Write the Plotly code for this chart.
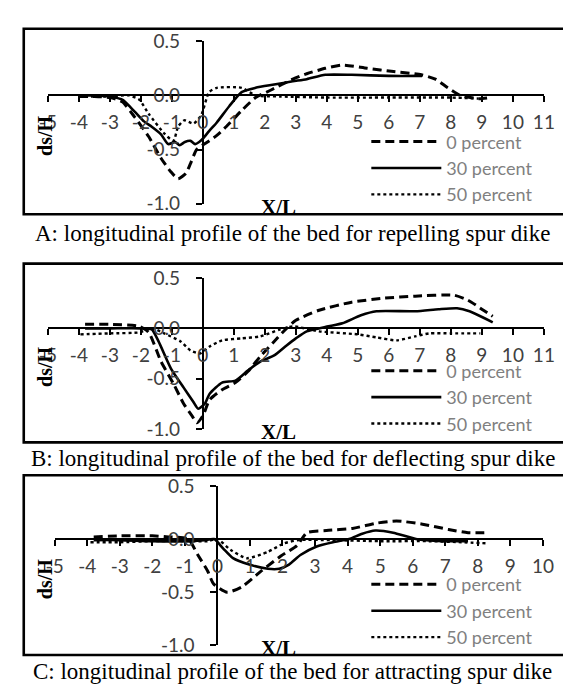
import plotly.graph_objects as go

W, H = 571, 688

# A: repelling spur dike
a0_x = [-4.0, -3.5, -3.0, -2.6, -2.2, -1.75, -1.35, -1.05, -0.8, -0.55, -0.4, -0.2, 0.1, 0.45, 0.75, 1.25, 1.7, 2.2, 2.9, 3.35, 3.95, 4.5, 5.3, 6.15, 7.05, 7.5, 7.9, 8.3, 8.9, 9.25]
a0_y = [-0.01, -0.01, -0.02, -0.06, -0.2, -0.38, -0.58, -0.7, -0.77, -0.72, -0.63, -0.5, -0.44, -0.37, -0.29, -0.14, -0.02, 0.05, 0.15, 0.2, 0.25, 0.28, 0.25, 0.22, 0.19, 0.15, 0.07, 0.0, -0.03, -0.02]
a30_x = [-4.0, -3.5, -3.0, -2.6, -2.2, -1.9, -1.65, -1.35, -1.12, -0.9, -0.75, -0.58, -0.4, -0.25, -0.12, 0.0, 0.2, 0.45, 0.85, 1.25, 1.7, 2.3, 2.9, 3.35, 3.95, 4.8, 6.0, 7.07]
a30_y = [0.0, 0.0, -0.01, -0.04, -0.15, -0.24, -0.29, -0.36, -0.45, -0.43, -0.46, -0.43, -0.42, -0.45, -0.43, -0.4, -0.33, -0.25, -0.1, 0.03, 0.07, 0.1, 0.13, 0.15, 0.19, 0.19, 0.18, 0.18]
a50_x = [-4.0, -3.0, -2.4, -2.05, -1.75, -1.25, -0.95, -0.8, -0.6, -0.3, -0.05, 0.2, 0.45, 1.25, 1.7, 2.5, 4.0, 6.0, 8.0, 8.9]
a50_y = [-0.01, -0.01, 0.0, -0.04, -0.17, -0.35, -0.42, -0.29, -0.23, -0.26, -0.18, 0.03, 0.07, 0.07, 0.0, -0.01, -0.02, -0.02, -0.02, -0.03]

# B: deflecting spur dike
b0_x = [-3.8, -3.0, -2.05, -1.75, -1.35, -0.95, -0.62, -0.35, -0.19, 0.0, 0.22, 0.62, 1.05, 1.45, 1.85, 2.3, 2.7, 3.0, 3.75, 4.8, 5.85, 6.85, 8.1, 8.55, 9.05, 9.35]
b0_y = [0.04, 0.04, 0.02, -0.04, -0.33, -0.55, -0.75, -0.87, -0.94, -0.87, -0.71, -0.61, -0.54, -0.43, -0.28, -0.13, 0.0, 0.08, 0.18, 0.26, 0.3, 0.32, 0.33, 0.28, 0.18, 0.12]
b30_x = [-3.8, -3.0, -2.0, -1.65, -1.43, -1.03, -0.62, -0.31, -0.15, 0.06, 0.22, 0.62, 1.05, 1.45, 1.85, 2.3, 2.7, 3.0, 3.35, 4.05, 4.5, 5.1, 5.6, 6.85, 7.6, 8.2, 8.6, 9.35]
b30_y = [0.0, 0.0, 0.0, -0.01, -0.13, -0.4, -0.59, -0.73, -0.8, -0.75, -0.65, -0.54, -0.52, -0.42, -0.33, -0.27, -0.17, -0.1, -0.03, 0.02, 0.05, 0.13, 0.17, 0.17, 0.19, 0.2, 0.17, 0.06]
b50_x = [-3.95, -3.0, -2.05, -1.65, -1.25, -0.72, -0.4, -0.1, 0.22, 0.62, 1.25, 1.85, 2.5, 2.9, 3.75, 5.0, 5.6, 6.25, 6.85, 7.3, 8.0, 8.95]
b50_y = [-0.06, -0.05, -0.04, 0.0, -0.05, -0.13, -0.22, -0.25, -0.18, -0.12, -0.1, -0.08, -0.01, 0.02, -0.03, -0.06, -0.09, -0.12, -0.08, -0.05, -0.05, -0.05]

# C: attracting spur dike
c0_x = [-3.8, -3.0, -2.0, -1.5, -0.9, -0.6, -0.3, -0.12, 0.3, 0.75, 1.35, 1.95, 2.45, 2.75, 3.35, 4.15, 4.9, 5.5, 6.3, 7.1, 7.7, 8.35]
c0_y = [0.02, 0.03, 0.03, 0.02, 0.0, -0.15, -0.3, -0.42, -0.5, -0.45, -0.3, -0.16, -0.06, 0.06, 0.08, 0.1, 0.15, 0.17, 0.14, 0.09, 0.06, 0.06]
c30_x = [-3.8, -3.0, -2.0, -1.0, -0.4, -0.1, 0.18, 0.48, 0.98, 1.55, 1.9, 2.2, 2.55, 3.05, 3.55, 4.05, 4.45, 4.85, 5.4, 6.1, 6.9, 7.7]
c30_y = [-0.01, -0.01, -0.02, -0.02, -0.01, 0.0, -0.09, -0.18, -0.24, -0.28, -0.28, -0.24, -0.15, -0.07, -0.03, 0.0, 0.05, 0.08, 0.06, 0.0, -0.02, -0.02]
c50_x = [-3.9, -3.0, -2.0, -1.0, -0.3, 0.0, 0.4, 0.9, 1.55, 2.05, 2.5, 3.5, 5.0, 6.5, 7.5, 8.3]
c50_y = [-0.03, -0.03, -0.02, -0.02, -0.02, 0.0, -0.1, -0.18, -0.12, -0.04, -0.01, -0.01, -0.02, -0.02, -0.03, -0.04]

series_names = ["0 percent", "30 percent", "50 percent"]
x_ticks_ab = list(range(-5, 12))
x_ticks_c = list(range(-5, 11))
y_ticks = [-1.0, -0.5, 0.0, 0.5]
y_ticktext = ["-1.0", "-0.5", "0.0", "0.5"]
captions = [
    "A: longitudinal profile of the bed for repelling spur dike",
    "B: longitudinal profile of the bed for deflecting spur dike",
    "C: longitudinal profile of the bed for attracting spur dike",
]

panels = [
    dict(s="", xs=[a0_x, a30_x, a50_x], ys=[a0_y, a30_y, a50_y], ticks=x_ticks_ab,
         xpx=(32, 546), ypx=(190, 22), box=(9, 201), cap=221, leg=107),
    dict(s="2", xs=[b0_x, b30_x, b50_x], ys=[b0_y, b30_y, b50_y], ticks=x_ticks_ab,
         xpx=(32, 546), ypx=(423, 267), box=(252, 437), cap=454, leg=344),
    dict(s="3", xs=[c0_x, c30_x, c50_x], ys=[c0_y, c30_y, c50_y], ticks=x_ticks_c,
         xpx=(39, 545), ypx=(647, 482), box=(471, 657), cap=674, leg=565),
]

styles = [dict(width=3, dash="9px,5px"), dict(width=2.6, dash="solid"), dict(width=2.4, dash="dot")]
tickfont = dict(family="Lato", size=19, color="#404040")
serif = "Liberation Serif"


def label(text, xp, yp, size, angle=0):
    return dict(text=text, textangle=angle, xref="paper", yref="paper",
                x=xp / W, y=1 - yp / H, xanchor="center", yanchor="middle",
                showarrow=False, font=dict(family=serif, size=size, color="black"))


fig = go.Figure()
layout = {}
shapes = []
annotations = []
for p, cap in zip(panels, captions):
    s = p["s"]
    xr = [p["ticks"][0], p["ticks"][-1]]
    xd = [p["xpx"][0] / W, p["xpx"][1] / W]
    yd = [1 - p["ypx"][0] / H, 1 - p["ypx"][1] / H]
    # axes cross at the origin, as in the original spreadsheet chart
    xpos = yd[0] + (0 - y_ticks[0]) / (y_ticks[-1] - y_ticks[0]) * (yd[1] - yd[0])
    ypos = xd[0] + (0 - xr[0]) / (xr[1] - xr[0]) * (xd[1] - xd[0])

    for i in range(3):
        fig.add_trace(go.Scatter(
            x=p["xs"][i], y=p["ys"][i], mode="lines", name=series_names[i],
            line=dict(color="black", shape="spline", smoothing=0.6, **styles[i]),
            xaxis="x" + s, yaxis="y" + s, legend="legend" + s,
        ))

    layout["xaxis" + s] = dict(
        domain=xd, range=xr, anchor="free", position=xpos,
        showline=True, linecolor="black", linewidth=2, showgrid=False, zeroline=False,
        ticks="outside", ticklen=6, tickwidth=2, tickcolor="black", ticklabelstandoff=4,
        tickvals=p["ticks"], ticktext=[str(v) for v in p["ticks"]], tickfont=tickfont,
    )
    layout["yaxis" + s] = dict(
        domain=yd, range=[y_ticks[0], y_ticks[-1]], anchor="free", position=ypos,
        showline=True, linecolor="black", linewidth=2, showgrid=False, zeroline=False,
        ticks="outside", ticklen=6, tickwidth=2, tickcolor="black", ticklabelstandoff=12,
        tickvals=y_ticks, ticktext=y_ticktext, tickfont=tickfont,
    )
    layout["legend" + s] = dict(
        x=362 / W, y=1 - p["leg"] / H, xanchor="left", yanchor="top",
        bgcolor="rgba(0,0,0,0)", itemwidth=70, tracegroupgap=0,
        font=dict(family="Lato", size=18, color="#808080"),
    )

    b0, b1 = p["box"]
    shapes.append(dict(type="rect", xref="paper", yref="paper",
                       x0=7 / W, x1=569 / W, y0=1 - b1 / H, y1=1 - b0 / H,
                       line=dict(color="black", width=2.6)))
    mid = (p["ypx"][0] + p["ypx"][1]) / 2
    annotations.append(label("<b>ds/H</b>", 29, mid + 14, 20, angle=-90))
    annotations.append(label("<b>X/L</b>", 271, p["ypx"][0] + 3, 21))
    annotations.append(label(cap, W / 2, p["cap"], 23))

fig.update_layout(
    **layout,
    width=W, height=H,
    margin=dict(l=0, r=0, t=0, b=0),
    paper_bgcolor="white", plot_bgcolor="rgba(0,0,0,0)",
    showlegend=True,
    shapes=shapes, annotations=annotations,
)

fig.write_html("out.html")
